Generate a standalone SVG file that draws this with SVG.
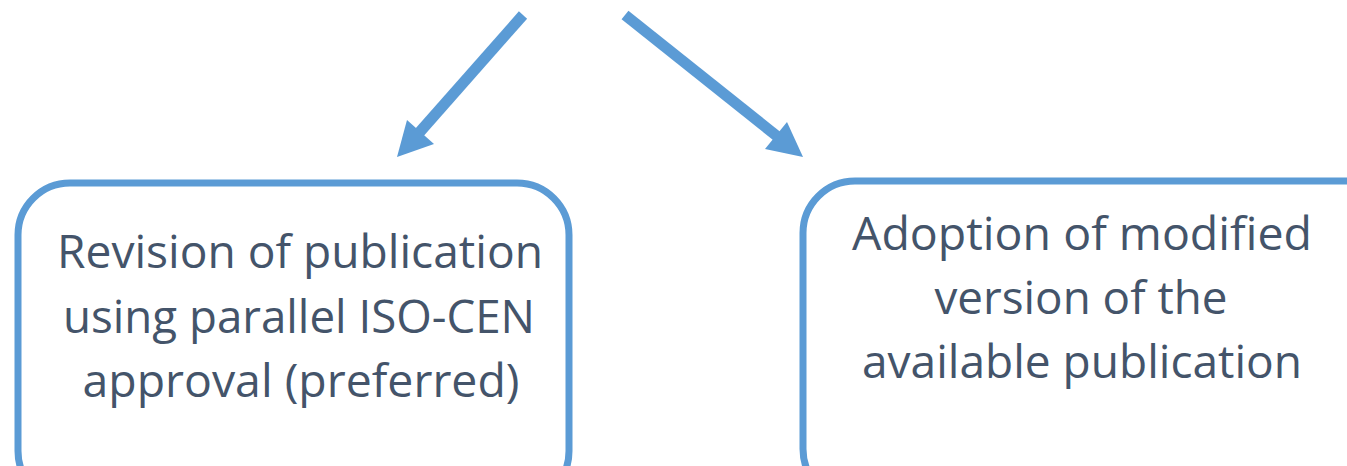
<svg xmlns="http://www.w3.org/2000/svg" width="1347" height="466" viewBox="0 0 1347 466">
<style>
.box{fill:#fff;stroke:#5B9BD5;stroke-width:7}
.t{font-family:"Open Sans","Liberation Sans",sans-serif;font-size:46px;fill:#44546A;text-anchor:middle}
.sh{stroke:#5B9BD5;stroke-width:11;fill:none}
.hd{fill:#5B9BD5}
</style>
<rect width="1347" height="466" fill="#fff"/>
<g id="connectors">
<line class="sh" x1="523" y1="15" x2="418" y2="134"/>
<polygon class="hd" points="397,157 407,120 434,144"/>
<line class="sh" x1="625" y1="15" x2="778" y2="137"/>
<polygon class="hd" points="803,157 787,122 765,149"/>
</g>
<g id="node-left">
<rect class="box" x="18" y="183" width="551" height="320" rx="52"/>
<text class="t" x="300" y="268" textLength="486" lengthAdjust="spacingAndGlyphs">Revision of publication</text>
<text class="t" x="299" y="333" textLength="472" lengthAdjust="spacingAndGlyphs">using parallel ISO-CEN</text>
<text class="t" x="301" y="397" textLength="437" lengthAdjust="spacingAndGlyphs">approval (preferred)</text>
</g>
<g id="node-right">
<rect class="box" x="803" y="181" width="600" height="320" rx="52"/>
<text class="t" x="1082" y="250" textLength="460" lengthAdjust="spacingAndGlyphs">Adoption of modified</text>
<text class="t" x="1081" y="314" textLength="293" lengthAdjust="spacingAndGlyphs">version of the</text>
<text class="t" x="1082" y="378" textLength="440" lengthAdjust="spacingAndGlyphs">available publication</text>
</g>
</svg>
